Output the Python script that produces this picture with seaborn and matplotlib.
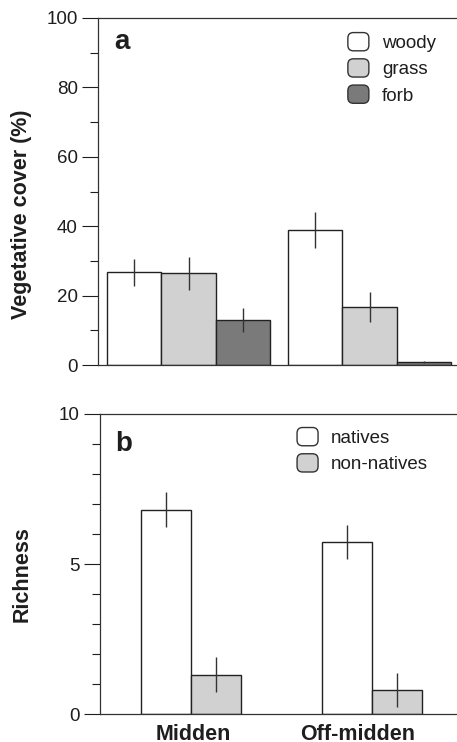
import numpy as np
import pandas as pd
import seaborn as sns
import matplotlib
matplotlib.use("Agg")
import matplotlib.pyplot as plt
from matplotlib.patches import FancyBboxPatch
from matplotlib.legend_handler import HandlerPatch
from matplotlib.ticker import MultipleLocator

# ---- data ----
sites = ["Midden", "Off-midden"]
cover_types = ["woody", "grass", "forb"]
cover_mean = {"woody": [26.7, 38.9], "grass": [26.4, 16.8], "forb": [13.0, 0.8]}
cover_se = {"woody": [3.9, 5.3], "grass": [4.8, 4.3], "forb": [3.5, 0.3]}

origin_types = ["natives", "non-natives"]
rich_mean = {"natives": [6.81, 5.74], "non-natives": [1.32, 0.81]}
rich_se = {"natives": [0.58, 0.56], "non-natives": [0.58, 0.57]}

cover_colors = {"woody": "#ffffff", "grass": "#d0d1d0", "forb": "#7a7a7a"}
rich_colors = {"natives": "#ffffff", "non-natives": "#d0d1d0"}

df_cover = pd.DataFrame([(s, t, cover_mean[t][i], cover_se[t][i])
                         for t in cover_types for i, s in enumerate(sites)],
                        columns=["site", "type", "mean", "se"])
df_rich = pd.DataFrame([(s, t, rich_mean[t][i], rich_se[t][i])
                        for t in origin_types for i, s in enumerate(sites)],
                       columns=["site", "type", "mean", "se"])

sns.set_theme(style="ticks")
plt.rcParams["font.family"] = ["Liberation Sans", "DejaVu Sans"]
INK = "#1e1e1e"
plt.rcParams.update({"axes.edgecolor": "#333333", "xtick.color": INK, "ytick.color": INK,
                     "text.color": INK, "axes.labelcolor": INK})

fig = plt.figure(figsize=(4.57, 7.42), dpi=100)
W, H = 457, 742
ax1 = fig.add_axes([98 / W, (H - 365) / H, 1 - 98 / W, (365 - 18) / H])
ax2 = fig.add_axes([100 / W, (H - 714.3) / H, 1 - 100 / W, (714.3 - 414) / H])


class RoundHandler(HandlerPatch):
    def create_artists(self, legend, orig_handle, xdescent, ydescent, width, height, fontsize, trans):
        p = FancyBboxPatch((-xdescent, -ydescent), width, height,
                           boxstyle="round,pad=0,rounding_size=4",
                           facecolor=orig_handle.get_facecolor(),
                           edgecolor="#333333", linewidth=1.0, transform=trans)
        return [p]


def draw(ax, df, order, colors, width, se_lookup):
    sns.barplot(data=df, x="site", y="mean", hue="type", hue_order=order, order=sites,
                palette=colors, width=width, gap=0, errorbar=None, ax=ax,
                edgecolor="#222222", linewidth=1.0, saturation=1)
    for cont, t in zip(ax.containers, order):
        xs = [b.get_x() + b.get_width() / 2 for b in cont]
        ys = [b.get_height() for b in cont]
        ax.errorbar(xs, ys, yerr=se_lookup[t], fmt="none", ecolor="#333333",
                    elinewidth=1.0, capsize=0, zorder=5)


draw(ax1, df_cover, cover_types, cover_colors, 0.9, cover_se)
draw(ax2, df_rich, origin_types, rich_colors, 0.55, rich_se)

for ax in (ax1, ax2):
    ax.spines["right"].set_visible(False)
    ax.spines["top"].set_visible(True)
    for s in ax.spines.values():
        s.set_linewidth(0.9)
    ax.tick_params(axis="y", which="major", length=11.5, width=0.8, labelsize=13.5, pad=3)
    ax.tick_params(axis="y", which="minor", length=5.8, width=0.8)
    ax.tick_params(axis="x", length=0)
    ax.set_xlabel("")

ax1.set_xlim(-0.5, 1.483)
ax1.set_ylim(0, 100)
ax1.yaxis.set_major_locator(MultipleLocator(20))
ax1.yaxis.set_minor_locator(MultipleLocator(10))
ax1.set_xticks([])
ax1.set_ylabel("Vegetative cover (%)", fontsize=15.5, fontweight="bold")
ax1.yaxis.set_label_coords(-0.183, 0.434)

ax2.set_xlim(-0.503, 1.47)
ax2.set_ylim(0, 10)
ax2.yaxis.set_major_locator(MultipleLocator(5))
ax2.yaxis.set_minor_locator(MultipleLocator(1))
ax2.set_xticks([0.01, 0.92])
ax2.set_xticklabels(sites, fontsize=15.5, fontweight="bold")
ax2.tick_params(axis="x", pad=7)
ax2.set_ylabel("Richness", fontsize=15.5, fontweight="bold")
ax2.yaxis.set_label_coords(-0.19, 0.467)

h, l = ax1.get_legend_handles_labels()
ax1.legend(h, l, handler_map={type(h[0]): RoundHandler()}, loc="upper left",
           bbox_to_anchor=(0.696, 0.958), frameon=False, fontsize=13.5,
           handlelength=1.12, handleheight=1.12, handletextpad=0.7,
           labelspacing=0.36, borderpad=0, borderaxespad=0)
h, l = ax2.get_legend_handles_labels()
ax2.legend(h, l, handler_map={type(h[0]): RoundHandler()}, loc="upper left",
           bbox_to_anchor=(0.552, 0.955), frameon=False, fontsize=13.5,
           handlelength=1.12, handleheight=1.12, handletextpad=0.7,
           labelspacing=0.36, borderpad=0, borderaxespad=0)

ax1.text(0.045, 0.911, "a", transform=ax1.transAxes, fontsize=20, fontweight="bold",
         va="baseline", ha="left")
ax2.text(0.042, 0.877, "b", transform=ax2.transAxes, fontsize=20, fontweight="bold",
         va="baseline", ha="left")

fig.savefig("out.png", dpi=100)
